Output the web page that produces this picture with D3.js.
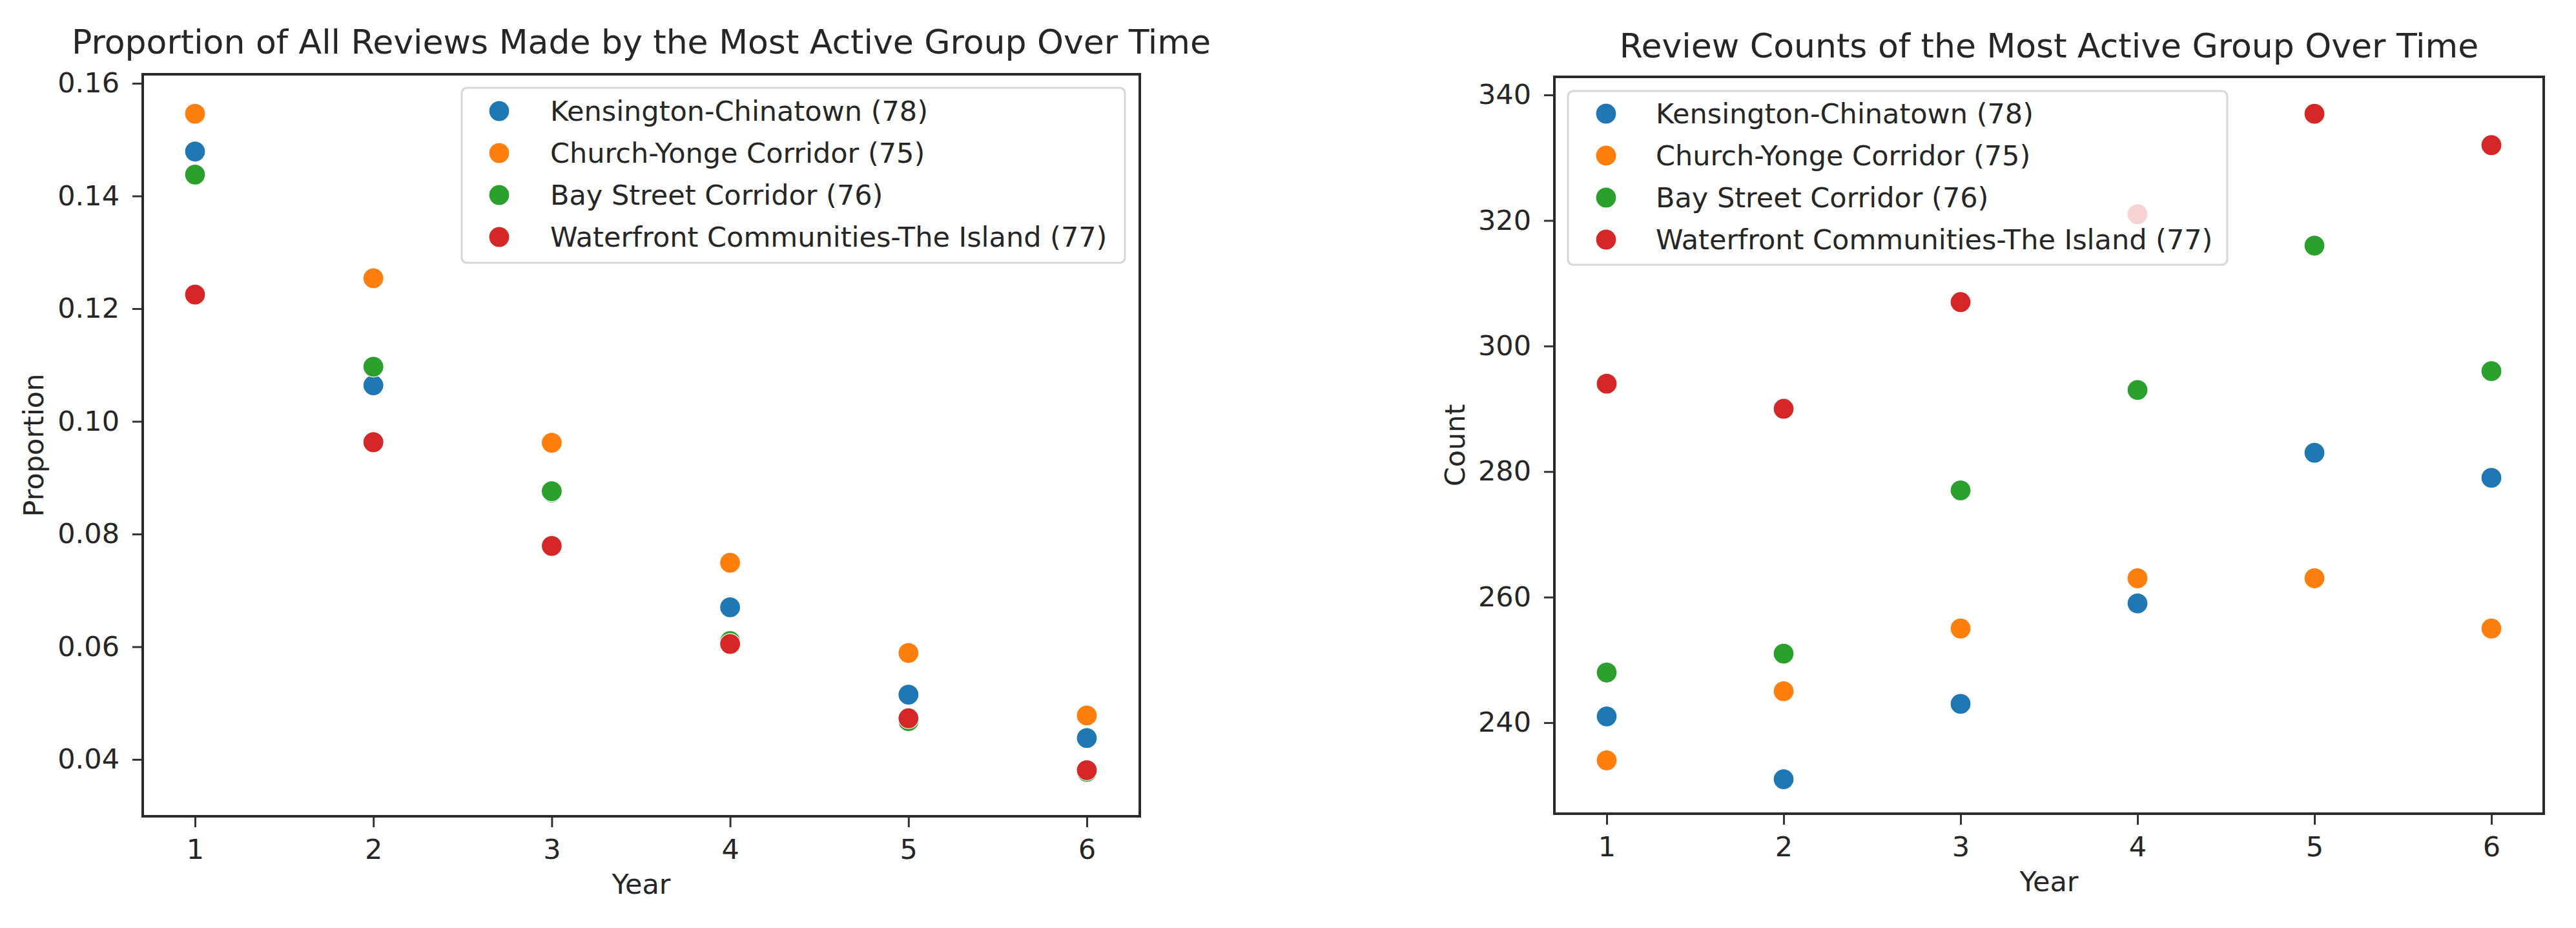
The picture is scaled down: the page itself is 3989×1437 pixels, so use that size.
<!DOCTYPE html>
<html>
<head>
<meta charset="utf-8">
<script src="https://cdn.jsdelivr.net/npm/d3@7"></script>
<style>
  html, body { margin: 0; padding: 0; background: #ffffff; }
  svg { display: block; font-family: "DejaVu Sans", sans-serif; }
</style>
</head>
<body>
<svg id="chart" width="3989" height="1437"></svg>
<script>
// ---------------- data ----------------
const years = [1, 2, 3, 4, 5, 6];
const seriesNames = [
  "Kensington-Chinatown (78)",
  "Church-Yonge Corridor (75)",
  "Bay Street Corridor (76)",
  "Waterfront Communities-The Island (77)"
];
const seriesColors = ["#1f77b4", "#ff7f0e", "#2ca02c", "#d62728"];

const propKensington = [0.1479, 0.1064, 0.0874, 0.0670, 0.0515, 0.0438];
const propChurch     = [0.1546, 0.1254, 0.0962, 0.0749, 0.0589, 0.0478];
const propBay        = [0.1438, 0.1097, 0.0876, 0.0610, 0.0468, 0.0378];
const propWaterfront = [0.1225, 0.0963, 0.0779, 0.0605, 0.0473, 0.0381];

const countKensington = [241, 231, 243, 259, 283, 279];
const countChurch     = [234, 245, 255, 263, 263, 255];
const countBay        = [248, 251, 277, 293, 316, 296];
const countWaterfront = [294, 290, 307, 321, 337, 332];

const propTicks  = [0.04, 0.06, 0.08, 0.10, 0.12, 0.14, 0.16];
const countTicks = [240, 260, 280, 300, 320, 340];

const titleLeft  = "Proportion of All Reviews Made by the Most Active Group Over Time";
const titleRight = "Review Counts of the Most Active Group Over Time";
const yLabelLeft = "Proportion";
const yLabelRight = "Count";
const xLabel = "Year";

// ---------------- layout ----------------
const FONT = 43;
const TITLE_FONT = 52;
const svg = d3.select("#chart");

function drawPanel(cfg) {
  const { box, xDomain, yDomain, series, yTicks, yFormat, title, yLabel, legendBox } = cfg;
  const x = d3.scaleLinear().domain(xDomain).range([box.left, box.right]);
  const y = d3.scaleLinear().domain(yDomain).range([box.bottom, box.top]);
  const g = svg.append("g");

  // points (series order: later series drawn on top)
  series.forEach((vals, si) => {
    g.append("g").selectAll("circle")
      .data(vals.map((v, i) => ({ year: years[i], v })))
      .join("circle")
      .attr("cx", d => x(d.year))
      .attr("cy", d => y(d.v))
      .attr("r", 16)
      .attr("fill", seriesColors[si])
      .attr("stroke", "#ffffff")
      .attr("stroke-width", 1.2);
  });

  // axes
  const xAxis = d3.axisBottom(x).tickValues(years).tickFormat(d3.format("d"))
    .tickSize(17).tickPadding(18);
  const yAxis = d3.axisLeft(y).tickValues(yTicks).tickFormat(yFormat)
    .tickSize(16).tickPadding(20);

  const gx = g.append("g").attr("transform", `translate(0,${box.bottom})`).call(xAxis);
  const gy = g.append("g").attr("transform", `translate(${box.left},0)`).call(yAxis);
  [gx, gy].forEach(a => {
    a.select(".domain").remove();
    a.selectAll(".tick line").attr("stroke", "#333").attr("stroke-width", 3);
    a.selectAll(".tick text").attr("fill", "#262626")
      .style("font-size", FONT + "px").style("font-family", "DejaVu Sans");
  });

  // spines
  g.append("rect")
    .attr("x", box.left).attr("y", box.top)
    .attr("width", box.right - box.left).attr("height", box.bottom - box.top)
    .attr("fill", "none").attr("stroke", "#2a2a2a").attr("stroke-width", 4);

  // title
  g.append("text")
    .attr("x", (box.left + box.right) / 2).attr("y", cfg.titleY)
    .attr("text-anchor", "middle").attr("fill", "#262626")
    .style("font-size", TITLE_FONT + "px").text(title);

  // x label
  g.append("text")
    .attr("x", (box.left + box.right) / 2).attr("y", cfg.xLabelY)
    .attr("text-anchor", "middle").attr("fill", "#262626")
    .style("font-size", FONT + "px").text(xLabel);

  // y label
  const cy = (box.top + box.bottom) / 2;
  g.append("text")
    .attr("transform", `translate(${cfg.yLabelX},${cy}) rotate(-90)`)
    .attr("text-anchor", "middle").attr("fill", "#262626")
    .style("font-size", FONT + "px").text(yLabel);

  // legend
  const lg = g.append("g");
  lg.append("rect")
    .attr("x", legendBox.x).attr("y", legendBox.y)
    .attr("width", legendBox.w).attr("height", legendBox.h)
    .attr("rx", 8).attr("ry", 8)
    .attr("fill", "#ffffff").attr("fill-opacity", 0.8)
    .attr("stroke", "#cccccc").attr("stroke-opacity", 0.8).attr("stroke-width", 3);
  seriesNames.forEach((name, i) => {
    const rowY = legendBox.y + legendBox.firstRow + i * legendBox.rowGap;
    lg.append("circle")
      .attr("cx", legendBox.x + legendBox.markerDx).attr("cy", rowY)
      .attr("r", 16).attr("fill", seriesColors[i])
      .attr("stroke", "#ffffff").attr("stroke-width", 1.2);
    lg.append("text")
      .attr("x", legendBox.x + legendBox.textDx).attr("y", rowY)
      .attr("dy", "0.36em").attr("fill", "#262626")
      .style("font-size", FONT + "px").text(name);
  });
}

drawPanel({
  box: { left: 221, right: 1765, top: 115, bottom: 1264 },
  xDomain: [0.7067, 6.297],
  yDomain: [0.02991, 0.1616],
  series: [propKensington, propChurch, propBay, propWaterfront],
  yTicks: propTicks,
  yFormat: d3.format(".2f"),
  title: titleLeft,
  titleY: 83,
  xLabelY: 1384,
  yLabelX: 67,
  yLabel: yLabelLeft,
  legendBox: { x: 715, y: 136, w: 1027, h: 271, firstRow: 36, rowGap: 65, markerDx: 58, textDx: 137 }
});

drawPanel({
  box: { left: 2407, right: 3939, top: 119, bottom: 1260 },
  xDomain: [0.7044, 6.2956],
  yDomain: [225.5, 342.88],
  series: [countKensington, countChurch, countBay, countWaterfront],
  yTicks: countTicks,
  yFormat: d3.format("d"),
  title: titleRight,
  titleY: 89,
  xLabelY: 1380,
  yLabelX: 2268,
  yLabel: yLabelRight,
  legendBox: { x: 2428, y: 141, w: 1021, h: 269, firstRow: 35, rowGap: 65, markerDx: 59, textDx: 136 }
});
</script>
</body>
</html>
